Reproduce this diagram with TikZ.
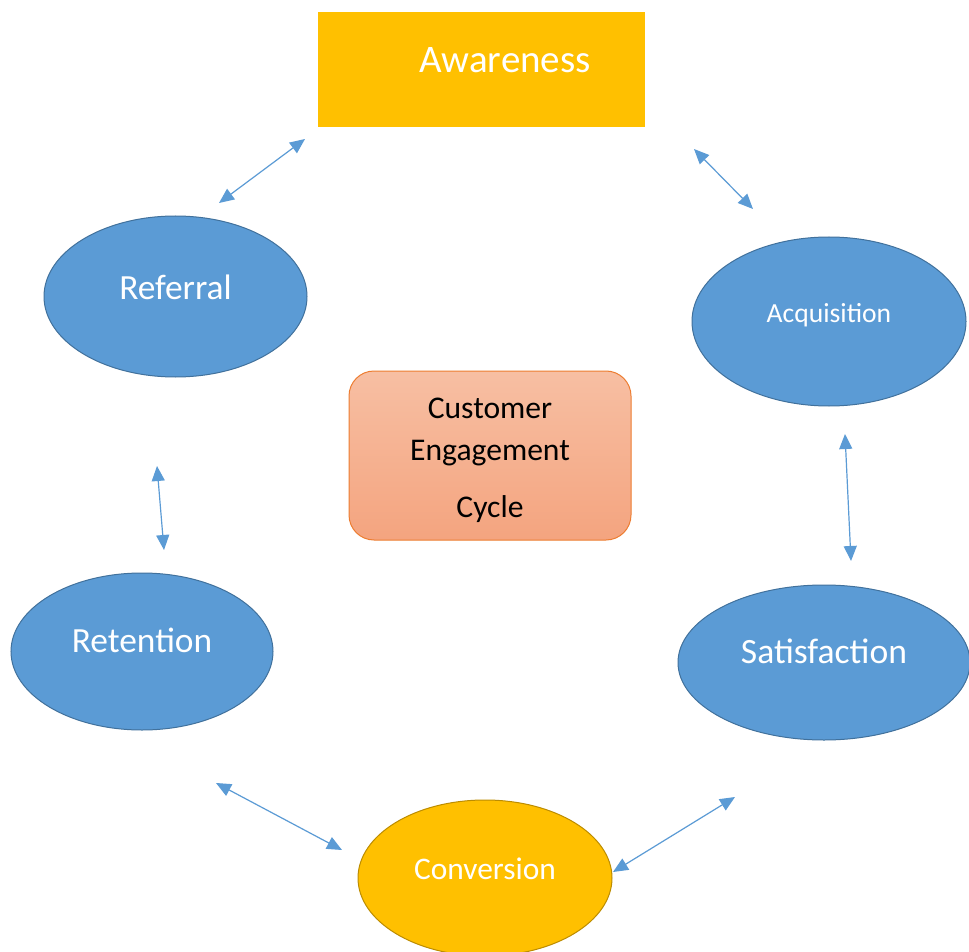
\documentclass[tikz,border=0pt]{standalone}
\usepackage{fontspec}
\setmainfont{Carlito}
\usepackage{tikz}
\usetikzlibrary{arrows.meta,shapes.geometric}
\definecolor{stageblue}{HTML}{5B9BD5}
\definecolor{stageedge}{HTML}{41719C}
\definecolor{gold}{HTML}{FFC000}
\definecolor{goldedge}{HTML}{BC8C00}
\definecolor{hubtop}{HTML}{F7BFA3}
\definecolor{hubbottom}{HTML}{F4A47F}
\definecolor{hubedge}{HTML}{ED7D31}

\begin{document}
\begin{tikzpicture}[x=0.5pt,y=-0.5pt,
  stage/.style={ellipse,fill=stageblue,draw=stageedge,line width=0.5pt,text=white,
    outer sep=0pt,inner sep=0pt,text height=0.75em,text depth=0.65em},
  hub/.style={rectangle,rounded corners=12.5pt,top color=hubtop,bottom color=hubbottom,
    draw=hubedge,line width=0.5pt,outer sep=0pt,align=center},
  link/.style={draw=stageblue,line width=0.6pt,
    {Triangle[length=7.5pt,width=6.5pt]}-{Triangle[length=7.5pt,width=6.5pt]}}]
\clip (0,0) rectangle (969,952);
\fill[white] (0,0) rectangle (969,952);

% the stages of the cycle
\node[rectangle,fill=gold,text=white,outer sep=0pt,minimum width=163.5pt,minimum height=57.5pt,
  text height=0.8em,text depth=0.45em,font=\fontsize{19.5}{23}\selectfont]
  (awareness) at (481.5,69.5) {\hspace*{23.5pt}Awareness};
\node[stage,minimum width=131.5pt,minimum height=80.5pt,font=\fontsize{17.7}{21}\selectfont,
  text depth=0.45em]
  (referral) at (175.5,296.5) {Referral};
\node[stage,minimum width=137pt,minimum height=84.5pt,font=\fontsize{13.8}{17}\selectfont]
  (acquisition) at (829,321.5) {Acquisition};
\node[stage,minimum width=131pt,minimum height=78.5pt,font=\fontsize{17.7}{21}\selectfont]
  (retention) at (142,651.5) {Retention};
\node[stage,minimum width=146pt,minimum height=77.5pt,font=\fontsize{17.8}{21}\selectfont]
  (satisfaction) at (824,662.5) {Satisfaction};
\node[stage,fill=gold,draw=goldedge,minimum width=127pt,minimum height=78pt,
  font=\fontsize{15.7}{19}\selectfont]
  (conversion) at (485,878) {Conversion};

% centre box
\node[hub,minimum width=141pt,minimum height=84.5pt,font=\fontsize{15.8}{21}\selectfont]
  (cycle) at (490,455.5) {\rule{0pt}{15.5pt}Customer\\Engagement\\[7.5pt]Cycle};

% two-way links
\draw[link] ([shift={(-13,12)}]awareness.south west) -- ([shift={(43.5,-13)}]referral.north);
\draw[link] ([shift={(49,22)}]awareness.south east) -- ([shift={(-76,-28)}]acquisition.north);
\draw[link] ([shift={(16,28)}]acquisition.south) -- ([shift={(27,-24)}]satisfaction.north);
\draw[link] ([shift={(-18.5,89)}]referral.south) -- ([shift={(22,-23)}]retention.north);
\draw[link] ([shift={(74,53)}]retention.south) -- ([shift={(-16,-28)}]conversion.west);
\draw[link] ([shift={(-89,57)}]satisfaction.south) -- ([shift={(1,-6)}]conversion.east);
\end{tikzpicture}
\end{document}
